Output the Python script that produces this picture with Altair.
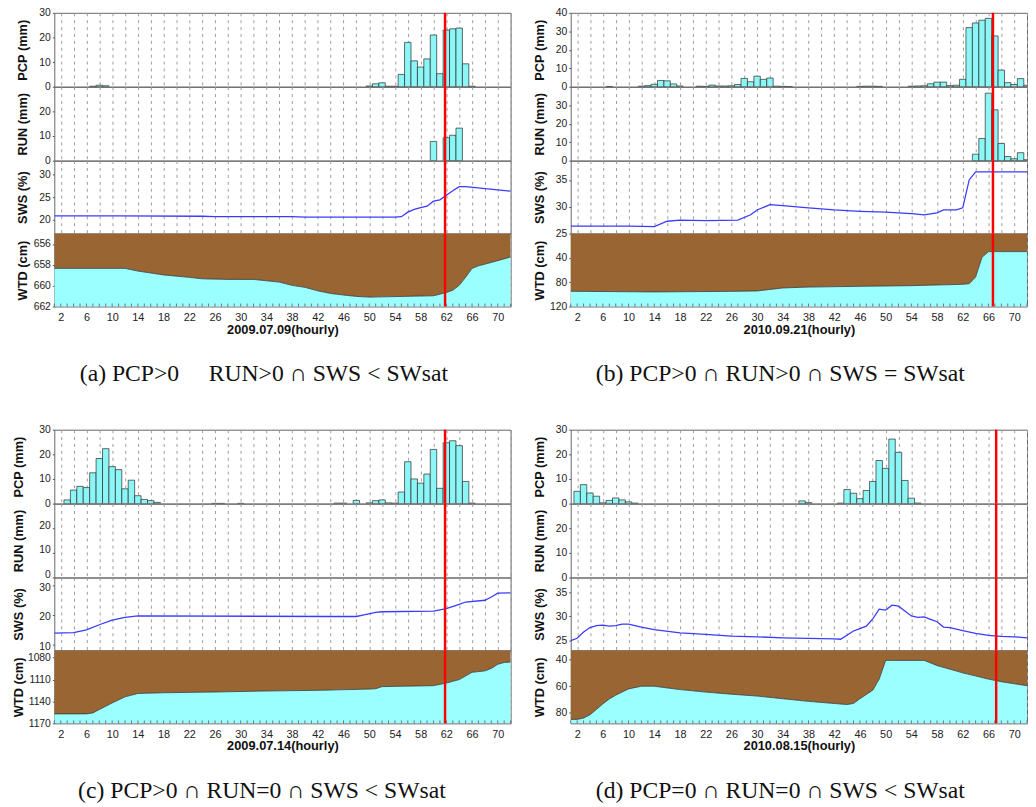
import altair as alt
import pandas as pd

# ---------------- shared ----------------
X_DOMAIN = [1, 72]
X_GRID = list(range(2, 73, 2))

# ---------------- (a) 2009.07.09 ----------------
A_DATE = "2009.07.09(hourly)"
A_CAPTION = "(a) PCP>0\u00a0\u00a0\u00a0\u00a0\u00a0RUN>0 \u2229 SWS < SWsat"
A_RED = 61.8
A_PCP_H = [7, 8, 9, 50, 51, 52, 53, 54, 55, 56, 57, 58, 59, 60, 61, 62, 63, 64, 65, 66]
A_PCP_V = [0.2, 0.6, 0.4, 0.3, 1.2, 1.6, 0.2, 0.2, 5.0, 18.0, 10.5, 8.0, 11.3, 21.0, 5.3, 23.0, 23.5, 23.8, 9.3, 0.2]
A_RUN_H = [60, 62, 63, 64]
A_RUN_V = [7.8, 9.3, 10.3, 13.2]
A_SWS_H = [1, 11, 24, 26, 38, 40, 54, 55, 56, 57, 58, 59, 60, 61, 62, 63, 64, 65, 72]
A_SWS_V = [20.9, 20.9, 20.8, 20.7, 20.7, 20.6, 20.6, 20.7, 21.7, 22.3, 22.7, 23.0, 24.1, 24.4, 25.4, 26.4, 27.3, 27.3, 26.3]
A_WTD_H = [1, 12, 14, 18, 22, 24, 28, 32, 34, 36, 38, 40, 42, 44, 46, 48, 50, 60, 62, 63, 64, 65, 66, 67, 70, 72]
A_WTD_V = [658.34, 658.34, 658.6, 658.97, 659.2, 659.34, 659.4, 659.4, 659.53, 659.66, 659.97, 660.16, 660.5,
           660.75, 660.9, 661.03, 661.1, 660.97, 660.66, 660.44, 659.97, 659.19, 658.34, 658.1, 657.6, 657.25]
A_PCP_DOM, A_PCP_TICKS = [0, 30], [0, 10, 20, 30]
A_RUN_DOM, A_RUN_TICKS = [0, 30], [0, 10, 20]
A_SWS_DOM, A_SWS_TICKS = [17, 33], [20, 25, 30]
A_WTD_DOM, A_WTD_TICKS = [655, 662], [656, 658, 660, 662]

# ---------------- (b) 2010.09.21 ----------------
B_DATE = "2010.09.21(hourly)"
B_CAPTION = "(b) PCP>0 \u2229 RUN>0 \u2229 SWS = SWsat"
B_RED = 66.7
B_PCP_H = [7, 12, 13, 14, 15, 16, 17, 18, 21, 22, 23, 24, 25, 26, 27, 28, 29, 30, 31, 32, 33, 34, 35,
           46, 47, 48, 49, 54, 55, 56, 57, 58, 59, 60, 61, 62, 63, 64, 65, 66, 67, 68, 69, 70, 71, 72]
B_PCP_V = [0.1, 0.3, 0.6, 1.3, 3.4, 3.2, 1.5, 0.4, 0.3, 0.2, 0.9, 0.4, 0.4, 0.5, 1.2, 4.5, 2.7, 5.7, 4.0, 4.7, 0.3, 0.2, 0.1,
           0.2, 0.3, 0.3, 0.2, 0.3, 0.4, 0.5, 1.6, 2.5, 2.5, 0.6, 0.8, 4.0, 32.0, 34.5, 36.0, 37.0, 27.5, 9.0, 2.2, 1.2, 4.4, 0.8]
B_RUN_H = [64, 65, 66, 67, 68, 69, 70, 71, 72]
B_RUN_V = [3.5, 12.0, 36.5, 27.5, 9.3, 2.2, 1.0, 4.3, 0.5]
B_SWS_H = [1, 10, 14, 16, 18, 22, 27, 29, 30, 32, 34, 38, 42, 46, 50, 54, 56, 58, 59, 61, 62, 63, 64, 72]
B_SWS_V = [26.4, 26.4, 26.3, 27.3, 27.5, 27.4, 27.5, 28.5, 29.4, 30.4, 30.2, 29.8, 29.4, 29.15, 29.0, 28.7, 28.5,
           28.85, 29.4, 29.4, 29.8, 35.0, 36.5, 36.5]
B_WTD_H = [1, 14, 27, 30, 32, 34, 38, 46, 54, 62, 63, 64, 65, 66, 72]
B_WTD_V = [95, 96, 95, 94.4, 92, 89.5, 88, 86.8, 85.7, 83.5, 82.4, 71.6, 39, 29.7, 29.7]
B_PCP_DOM, B_PCP_TICKS = [0, 40], [0, 10, 20, 30, 40]
B_RUN_DOM, B_RUN_TICKS = [0, 40], [0, 10, 20, 30]
B_SWS_DOM, B_SWS_TICKS = [25, 38.6], [25, 30, 35]
B_WTD_DOM, B_WTD_TICKS = [0, 120], [40, 80, 120]

# ---------------- (c) 2009.07.14 ----------------
C_DATE = "2009.07.14(hourly)"
C_CAPTION = "(c) PCP>0 \u2229 RUN=0 \u2229 SWS < SWsat"
C_RED = 61.8
C_PCP_H = [3, 4, 5, 6, 7, 8, 9, 10, 11, 12, 13, 14, 15, 16, 17, 26, 27, 30, 45, 46, 48,
           50, 51, 52, 53, 54, 55, 56, 57, 58, 59, 60, 61, 62, 63, 64, 65, 66]
C_PCP_V = [1.5, 5.5, 7.0, 6.5, 12.5, 18.3, 22.3, 15.0, 13.8, 6.0, 9.5, 3.2, 1.7, 1.2, 0.5, 0.1, 0.1, 0.1, 0.2, 0.2, 1.3,
           0.3, 1.2, 1.5, 0.3, 0.2, 4.7, 17.0, 10.0, 8.3, 12.0, 22.0, 6.2, 24.7, 25.5, 23.5, 9.0, 0.2]
C_RUN_H = []
C_RUN_V = []
C_SWS_H = [1, 4, 6, 8, 10, 12, 14, 44, 48, 49, 51, 52, 60, 62, 64, 65, 68, 69, 70, 72]
C_SWS_V = [13.9, 14.0, 15.0, 16.7, 18.3, 19.2, 19.7, 19.5, 19.5, 20.0, 20.9, 21.1, 21.3, 22.2, 23.6, 24.4, 25.0, 26.1, 27.4, 27.5]
C_WTD_H = [1, 6, 7, 8, 10, 12, 14, 18, 26, 34, 42, 50, 51, 52, 60, 62, 64, 66, 68, 69, 70, 71, 72]
C_WTD_V = [1157, 1157, 1155.7, 1151, 1142, 1133.6, 1129, 1128, 1127, 1125.6, 1124.7, 1123, 1122.5, 1119.6, 1118.3,
           1114.7, 1110, 1100, 1098, 1094.6, 1089, 1086.5, 1086]
C_PCP_DOM, C_PCP_TICKS = [0, 30], [0, 10, 20, 30]
C_RUN_DOM, C_RUN_TICKS = [0, 30], [0, 10, 20]
C_SWS_DOM, C_SWS_TICKS = [8, 32.7], [10, 20, 30]
C_WTD_DOM, C_WTD_TICKS = [1070, 1170], [1080, 1110, 1140, 1170]

# ---------------- (d) 2010.08.15 ----------------
D_DATE = "2010.08.15(hourly)"
D_CAPTION = "(d) PCP=0 \u2229 RUN=0 \u2229 SWS < SWsat"
D_RED = 67.2
D_PCP_H = [2, 3, 4, 5, 6, 7, 8, 9, 10, 11, 37, 38, 43, 44, 45, 46, 47, 48, 49, 50, 51, 52, 53, 54, 55]
D_PCP_V = [5.0, 7.7, 4.3, 3.0, 0.3, 1.3, 2.3, 1.5, 0.7, 0.2, 1.1, 0.4, 0.2, 5.7, 4.2, 2.0, 5.3, 9.0, 17.5, 14.3,
           26.2, 20.8, 9.4, 2.2, 0.2]
D_RUN_H = []
D_RUN_V = []
D_SWS_H = [1, 2, 3, 4, 5, 6, 7, 8, 9, 10, 12, 14, 18, 22, 26, 30, 34, 38, 42, 43, 45, 46, 47, 48, 49, 50, 51, 52,
           53, 54, 55, 56, 57, 58, 59, 60, 62, 64, 66, 68, 70, 72]
D_SWS_V = [25.0, 25.5, 26.8, 27.7, 28.1, 28.2, 28.0, 28.1, 28.4, 28.4, 27.8, 27.3, 26.6, 26.3, 25.96, 25.8, 25.6,
           25.5, 25.4, 25.3, 27.0, 27.5, 28.0, 29.5, 31.5, 31.3, 32.3, 32.1, 31.1, 30.1, 29.8, 29.9, 29.4, 28.9,
           27.8, 27.7, 27.1, 26.5, 26.1, 25.9, 25.8, 25.6]
D_WTD_H = [1, 2, 3, 4, 5, 6, 7, 8, 10, 12, 14, 18, 22, 26, 30, 34, 38, 42, 44, 45, 46, 48, 49, 50, 56, 58, 62,
           66, 68, 72]
D_WTD_V = [85, 85, 84, 81.5, 77.5, 73.3, 69.6, 66.7, 62, 60, 60, 62.5, 64.4, 66, 67.4, 69.4, 71.4, 73, 73.8, 73,
           69.4, 63, 54.6, 40.5, 40.5, 44.4, 49.9, 54.6, 56.6, 59.6]
D_PCP_DOM, D_PCP_TICKS = [0, 30], [0, 10, 20, 30]
D_RUN_DOM, D_RUN_TICKS = [0, 30], [0, 10, 20]
D_SWS_DOM, D_SWS_TICKS = [23, 38], [25, 30, 35]
D_WTD_DOM, D_WTD_TICKS = [33, 88], [40, 60, 80]

# ---------------- styling ----------------
W = 463
H_TOP = 75
H_LOW = 74
BAR_FILL = "#8cf6f6"
WATER = "#9bffff"
SOIL = "#996633"
SWS_COLOR = "#3b3bff"
RED = "#ff0000"
SANS = "Liberation Sans"
SERIF = "Liberation Serif"


def panel(date, caption, red_h, pcp_h, pcp_v, run_h, run_v, sws_h, sws_v, wtd_h, wtd_v,
          pcp_dom, pcp_ticks, run_dom, run_ticks, sws_dom, sws_ticks, wtd_dom, wtd_ticks,
          title_x=-25, run_label_shift=0, sws_label_shift=0):
    xs = alt.Scale(domain=X_DOMAIN, nice=False, zero=False)
    grid_kw = dict(values=X_GRID, grid=True, gridDash=[3, 4], gridColor="#9a9a9a", gridWidth=1,
                   ticks=False, domain=False)
    ax_hidden = alt.Axis(labels=False, title=None, **grid_kw)
    ax_bottom = alt.Axis(labelExpr="datum.value % 4 == 2 ? datum.label : ''", title=date,
                         labelFontSize=11, labelPadding=5, labelColor="#222", labelFont=SANS,
                         titleFont=SANS, titleFontSize=13, titleFontWeight="bold", titlePadding=1,
                         titleColor="#111", **grid_kw)

    def yaxis(title, ticks, h, shift=0):
        return alt.Axis(values=ticks, title=title, format="d", titleX=title_x, titleY=h / 2, titleAngle=270,
                        titleFont=SANS, titleFontSize=13, titleFontWeight="bold", titleColor="#111",
                        labelFont=SANS, labelFontSize=10.5, labelColor="#222", labelPadding=2,
                        labelOffset=shift, tickSize=2, tickColor="#555", domain=False, grid=False)

    def red(xaxis):
        return alt.Chart(pd.DataFrame({"h": [red_h]})).mark_rule(color=RED, strokeWidth=2.5).encode(
            x=alt.X("h:Q", scale=xs, axis=xaxis))

    def bars(h, v, dom, ticks, title, shift=0):
        df = pd.DataFrame({"h": pd.Series(h, dtype=float), "v": pd.Series(v, dtype=float)})
        b = alt.Chart(df).transform_calculate(x0="datum.h - 0.5", x1="datum.h + 0.5").mark_rect(
            fill=BAR_FILL, stroke="#2a2a2a", strokeWidth=0.7, clip=True).encode(
            x=alt.X("x0:Q", scale=xs, axis=ax_hidden), x2="x1:Q",
            y=alt.Y("v:Q", scale=alt.Scale(domain=dom, nice=False), axis=yaxis(title, ticks, H_TOP, shift)),
            y2=alt.datum(0))
        return alt.layer(b, red(ax_hidden)).properties(width=W, height=H_TOP)

    sws_df = pd.DataFrame({"h": sws_h, "v": sws_v})
    sws = alt.layer(
        alt.Chart(sws_df).mark_line(color=SWS_COLOR, strokeWidth=1.3, clip=True).encode(
            x=alt.X("h:Q", scale=xs, axis=ax_hidden),
            y=alt.Y("v:Q", scale=alt.Scale(domain=sws_dom, nice=False, zero=False),
                    axis=yaxis("SWS (%)", sws_ticks, H_LOW, sws_label_shift))),
        red(ax_hidden)).properties(width=W, height=H_LOW)

    wtd_df = pd.DataFrame({"h": wtd_h, "v": wtd_v})
    ys = alt.Scale(domain=wtd_dom, reverse=True, nice=False, zero=False)
    wx = alt.X("h:Q", scale=xs, axis=ax_bottom)
    wy = alt.Y("v:Q", scale=ys, axis=yaxis("WTD (cm)", wtd_ticks, H_LOW))
    base = alt.Chart(wtd_df)
    soil = base.mark_area(color=SOIL, clip=True).encode(x=wx, y=wy, y2=alt.datum(wtd_dom[0]))
    water = base.mark_area(color=WATER, clip=True).encode(x=wx, y=wy, y2=alt.datum(wtd_dom[1]))
    edge = base.mark_line(color="#333", strokeWidth=0.8, clip=True).encode(x=wx, y=wy)
    minor = alt.Chart(alt.sequence(1, 73, as_="h")).mark_rule(color="#556", strokeWidth=0.8).encode(
        x=wx, y=alt.value(H_LOW - 3), y2=alt.value(H_LOW))
    wtd = alt.layer(soil, water, edge, minor, red(ax_bottom)).properties(width=W, height=H_LOW)

    return alt.vconcat(
        bars(pcp_h, pcp_v, pcp_dom, pcp_ticks, "PCP (mm)"),
        bars(run_h, run_v, run_dom, run_ticks, "RUN (mm)", run_label_shift),
        sws, wtd, spacing=0, bounds="flush",
    ).properties(title=alt.TitleParams(caption, orient="bottom", anchor="middle", font=SERIF, fontSize=24,
                                       fontWeight="normal", color="#111", offset=26))


pa = panel(A_DATE, A_CAPTION, A_RED, A_PCP_H, A_PCP_V, A_RUN_H, A_RUN_V, A_SWS_H, A_SWS_V, A_WTD_H, A_WTD_V,
           A_PCP_DOM, A_PCP_TICKS, A_RUN_DOM, A_RUN_TICKS, A_SWS_DOM, A_SWS_TICKS, A_WTD_DOM, A_WTD_TICKS)
pb = panel(B_DATE, B_CAPTION, B_RED, B_PCP_H, B_PCP_V, B_RUN_H, B_RUN_V, B_SWS_H, B_SWS_V, B_WTD_H, B_WTD_V,
           B_PCP_DOM, B_PCP_TICKS, B_RUN_DOM, B_RUN_TICKS, B_SWS_DOM, B_SWS_TICKS, B_WTD_DOM, B_WTD_TICKS)
pc = panel(C_DATE, C_CAPTION, C_RED, C_PCP_H, C_PCP_V, C_RUN_H, C_RUN_V, C_SWS_H, C_SWS_V, C_WTD_H, C_WTD_V,
           C_PCP_DOM, C_PCP_TICKS, C_RUN_DOM, C_RUN_TICKS, C_SWS_DOM, C_SWS_TICKS, C_WTD_DOM, C_WTD_TICKS,
           title_x=-29, run_label_shift=-3, sws_label_shift=2)
pd_ = panel(D_DATE, D_CAPTION, D_RED, D_PCP_H, D_PCP_V, D_RUN_H, D_RUN_V, D_SWS_H, D_SWS_V, D_WTD_H, D_WTD_V,
            D_PCP_DOM, D_PCP_TICKS, D_RUN_DOM, D_RUN_TICKS, D_SWS_DOM, D_SWS_TICKS, D_WTD_DOM, D_WTD_TICKS)

chart = alt.vconcat(
    alt.hconcat(pa, pb, spacing=21),
    alt.hconcat(pc, pd_, spacing=21),
    spacing=38,
).properties(
    padding={"left": 4, "top": -7, "right": 0, "bottom": 0},
    background="white",
).configure_view(stroke="#666", strokeWidth=1)

chart.save("out.html", embed_options={"renderer": "svg", "actions": False})
